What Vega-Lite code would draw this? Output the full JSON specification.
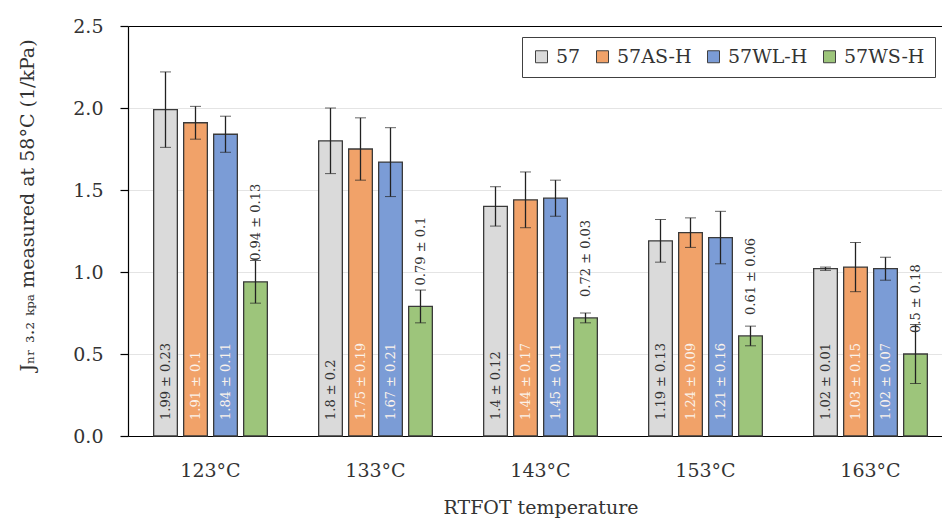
{
  "$schema": "https://vega.github.io/schema/vega-lite/v6.json",
  "width": 814,
  "height": 410,
  "autosize": {"type": "none"},
  "padding": {"left": 128, "top": 26, "right": 0, "bottom": 84},
  "background": "white",
  "config": {"font": "DejaVu Serif", "view": {"stroke": null}},
  "data": {
    "values": [
      {"temp": "123°C", "series": "57", "value": 1.99, "err": 0.23, "label": "1.99 ± 0.23"},
      {"temp": "123°C", "series": "57AS-H", "value": 1.91, "err": 0.1, "label": "1.91 ± 0.1"},
      {"temp": "123°C", "series": "57WL-H", "value": 1.84, "err": 0.11, "label": "1.84 ± 0.11"},
      {"temp": "123°C", "series": "57WS-H", "value": 0.94, "err": 0.13, "label": "0.94 ± 0.13"},
      {"temp": "133°C", "series": "57", "value": 1.8, "err": 0.2, "label": "1.8 ± 0.2"},
      {"temp": "133°C", "series": "57AS-H", "value": 1.75, "err": 0.19, "label": "1.75 ± 0.19"},
      {"temp": "133°C", "series": "57WL-H", "value": 1.67, "err": 0.21, "label": "1.67 ± 0.21"},
      {"temp": "133°C", "series": "57WS-H", "value": 0.79, "err": 0.1, "label": "0.79 ± 0.1"},
      {"temp": "143°C", "series": "57", "value": 1.4, "err": 0.12, "label": "1.4 ± 0.12"},
      {"temp": "143°C", "series": "57AS-H", "value": 1.44, "err": 0.17, "label": "1.44 ± 0.17"},
      {"temp": "143°C", "series": "57WL-H", "value": 1.45, "err": 0.11, "label": "1.45 ± 0.11"},
      {"temp": "143°C", "series": "57WS-H", "value": 0.72, "err": 0.03, "label": "0.72 ± 0.03"},
      {"temp": "153°C", "series": "57", "value": 1.19, "err": 0.13, "label": "1.19 ± 0.13"},
      {"temp": "153°C", "series": "57AS-H", "value": 1.24, "err": 0.09, "label": "1.24 ± 0.09"},
      {"temp": "153°C", "series": "57WL-H", "value": 1.21, "err": 0.16, "label": "1.21 ± 0.16"},
      {"temp": "153°C", "series": "57WS-H", "value": 0.61, "err": 0.06, "label": "0.61 ± 0.06"},
      {"temp": "163°C", "series": "57", "value": 1.02, "err": 0.01, "label": "1.02 ± 0.01"},
      {"temp": "163°C", "series": "57AS-H", "value": 1.03, "err": 0.15, "label": "1.03 ± 0.15"},
      {"temp": "163°C", "series": "57WL-H", "value": 1.02, "err": 0.07, "label": "1.02 ± 0.07"},
      {"temp": "163°C", "series": "57WS-H", "value": 0.5, "err": 0.18, "label": "0.5 ± 0.18"}
    ]
  },
  "encoding": {
    "x": {
      "field": "temp", "type": "nominal", "sort": null,
      "scale": {"range": [0, 825], "paddingInner": 0, "paddingOuter": 0},
      "axis": {
        "title": "RTFOT temperature", "labelAngle": 0, "ticks": false,
        "domainColor": "#000", "domainWidth": 1.2, "grid": false,
        "labelFont": "DejaVu Serif", "labelFontSize": 19, "labelColor": "#333", "labelPadding": 25,
        "titleFont": "DejaVu Serif", "titleFontSize": 19, "titleFontWeight": "normal", "titleColor": "#333", "titlePadding": 18
      }
    },
    "xOffset": {
      "field": "series", "type": "nominal", "sort": ["57", "57AS-H", "57WL-H", "57WS-H"],
      "scale": {"paddingInner": 0.21, "paddingOuter": 0.855}
    }
  },
  "layer": [
    {
      "mark": {"type": "bar", "stroke": "#3a3a3a", "strokeWidth": 1.3},
      "encoding": {
        "y": {
          "field": "value", "type": "quantitative",
          "title": "Jₙᵣ ₃.₂ ₖₚₐ  measured at 58°C (1/kPa)",
          "scale": {"domain": [0, 2.5], "nice": false},
          "axis": {
            "values": [0, 0.5, 1, 1.5, 2, 2.5], "format": ".1f",
            "domainColor": "#000", "domainWidth": 1.2,
            "tickColor": "#000", "tickSize": 8, "tickWidth": 1.2,
            "gridColor": {"condition": {"test": "datum.value == 2.5", "value": "#000"}, "value": "#e4e4e4"},
            "gridWidth": {"condition": {"test": "datum.value == 2.5", "value": 1.2}, "value": 1},
            "labelFont": "DejaVu Serif", "labelFontSize": 19, "labelColor": "#333", "labelPadding": 17,
            "titleFont": "DejaVu Serif", "titleFontSize": 19, "titleFontWeight": "normal", "titleColor": "#333",
            "titleX": -101, "titleY": 179, "titleAngle": -90, "titleBaseline": "middle", "titleAlign": "center"
          }
        },
        "color": {
          "field": "series", "type": "nominal",
          "scale": {"domain": ["57", "57AS-H", "57WL-H", "57WS-H"], "range": ["#DADADA", "#F1A269", "#7B9CD6", "#9DC57B"]},
          "legend": {
            "title": null, "orient": "none", "legendX": 394, "legendY": 11, "direction": "horizontal",
            "symbolType": "square", "symbolSize": 144, "symbolStrokeColor": "#404040", "symbolStrokeWidth": 1,
            "labelFont": "DejaVu Serif", "labelFontSize": 19, "labelColor": "#333", "labelOffset": 5,
            "columnPadding": 12, "padding": 10, "strokeColor": "#404040", "fillColor": "white"
          }
        }
      }
    },
    {
      "mark": {"type": "errorbar", "ticks": {"size": 11, "color": "#222", "strokeWidth": 1.3}, "rule": {"color": "#222", "strokeWidth": 1.3}},
      "encoding": {
        "y": {"field": "value", "type": "quantitative", "title": "Jₙᵣ ₃.₂ ₖₚₐ  measured at 58°C (1/kPa)"},
        "yError": {"field": "err"}
      }
    },
    {
      "transform": [{"filter": "datum.series != '57WS-H'"}],
      "mark": {"type": "text", "angle": 270, "align": "left", "baseline": "middle", "dx": 16, "fontSize": 13, "font": "DejaVu Serif"},
      "encoding": {
        "y": {"datum": 0, "type": "quantitative"},
        "text": {"field": "label"},
        "color": {"condition": {"test": "datum.series == '57'", "value": "#333"}, "value": "#FBF3EC"}
      }
    },
    {
      "transform": [{"filter": "datum.series == '57WS-H'"}],
      "mark": {"type": "text", "angle": 270, "align": "left", "baseline": "middle", "dx": 21, "fontSize": 13, "font": "DejaVu Serif", "color": "#333"},
      "encoding": {
        "y": {"field": "value", "type": "quantitative"},
        "text": {"field": "label"}
      }
    }
  ]
}
